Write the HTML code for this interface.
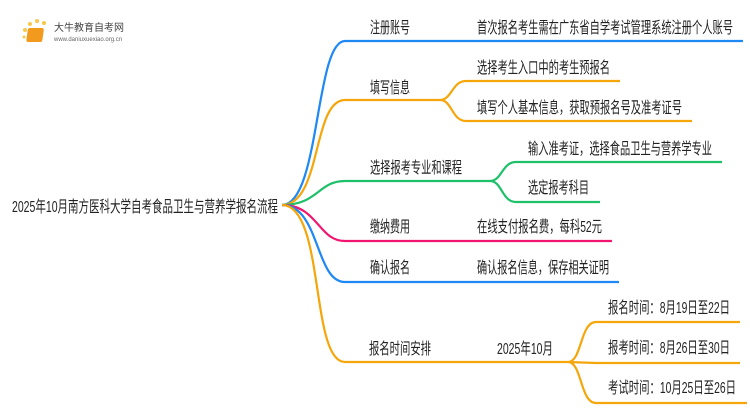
<!DOCTYPE html>
<html><head><meta charset="utf-8"><style>
body{margin:0;width:750px;height:410px;background:#fff;overflow:hidden;font-family:"Liberation Sans","Noto Sans CJK SC",sans-serif;}
svg text{font-family:"Liberation Sans","Noto Sans CJK SC",sans-serif;fill:#222;}
</style></head><body>
<svg width="750" height="410" xmlns="http://www.w3.org/2000/svg">
<g fill="none" stroke-width="2.2">
<path d="M282,205 C320,205 315,41 345,41 L743,41" stroke="#1e88f5"/>
<path d="M282,205 C322,205 312,100 345,100 L440,100" stroke="#f5a60a"/>
<path d="M440,100 C452,100 452,81 466,81 L620,81 M440,100 C452,100 452,121 466,121 L692,121" stroke="#f5a60a"/>
<path d="M282,205 C318,205 318,181 345,181 L490,181" stroke="#1ec06a"/>
<path d="M490,181 C502,181 502,162 516,162 L722,162 M490,181 C502,181 502,202 516,202 L600,202" stroke="#1ec06a"/>
<path d="M282,205 C318,205 318,241 345,241 L612,241" stroke="#f0156e"/>
<path d="M282,205 C320,205 315,282 345,282 L619,282" stroke="#1e88f5"/>
<path d="M282,205 C325,205 310,362 345,362 L568,362" stroke="#f5a60a"/>
<path d="M568,362 C582,362 580,322 596,322 L740,322 M568,362 L596,363 L740,363 M568,362 C582,362 580,403 596,403 L747,403" stroke="#f5a60a"/>
</g>
<g font-size="16">
<text x="12" y="212" textLength="266" lengthAdjust="spacingAndGlyphs">2025年10月南方医科大学自考食品卫生与营养学报名流程</text>
<text x="370" y="33" textLength="40" lengthAdjust="spacingAndGlyphs">注册账号</text>
<text x="477" y="33" textLength="256" lengthAdjust="spacingAndGlyphs">首次报名考生需在广东省自学考试管理系统注册个人账号</text>
<text x="370" y="93" textLength="40" lengthAdjust="spacingAndGlyphs">填写信息</text>
<text x="477" y="73" textLength="133" lengthAdjust="spacingAndGlyphs">选择考生入口中的考生预报名</text>
<text x="477" y="113" textLength="205" lengthAdjust="spacingAndGlyphs">填写个人基本信息，获取预报名号及准考证号</text>
<text x="370" y="173" textLength="92" lengthAdjust="spacingAndGlyphs">选择报考专业和课程</text>
<text x="528" y="154" textLength="184" lengthAdjust="spacingAndGlyphs">输入准考证，选择食品卫生与营养学专业</text>
<text x="528" y="193" textLength="61" lengthAdjust="spacingAndGlyphs">选定报考科目</text>
<text x="370" y="232" textLength="40" lengthAdjust="spacingAndGlyphs">缴纳费用</text>
<text x="477" y="232" textLength="125" lengthAdjust="spacingAndGlyphs">在线支付报名费，每科52元</text>
<text x="370" y="273" textLength="40" lengthAdjust="spacingAndGlyphs">确认报名</text>
<text x="477" y="273" textLength="132" lengthAdjust="spacingAndGlyphs">确认报名信息，保存相关证明</text>
<text x="369" y="354" textLength="62" lengthAdjust="spacingAndGlyphs">报名时间安排</text>
<text x="497" y="354" textLength="56" lengthAdjust="spacingAndGlyphs">2025年10月</text>
<text x="608" y="313" textLength="122" lengthAdjust="spacingAndGlyphs">报名时间：8月19日至22日</text>
<text x="608" y="353" textLength="122" lengthAdjust="spacingAndGlyphs">报考时间：8月26日至30日</text>
<text x="608" y="393" textLength="128" lengthAdjust="spacingAndGlyphs">考试时间：10月25日至26日</text>
</g>
<g>
<circle cx="25" cy="30" r="2" fill="#f8c84a"/><circle cx="30" cy="24" r="2" fill="#f8c84a"/><circle cx="37" cy="21" r="2" fill="#f8c84a"/><circle cx="44" cy="23" r="2" fill="#f8c84a"/><circle cx="24" cy="37" r="1.5" fill="#f8c84a"/>
<rect x="32" y="28" width="16" height="14" rx="2" fill="#f29a1e" transform="skewX(-8)"/>
<text x="54" y="31" font-size="10" style="fill:#444">大牛教育自考网</text>
<text x="54" y="41" font-size="6" style="fill:#666">www.daniuxuexiao.org.cn</text>
</g>
</svg>
</body></html>
